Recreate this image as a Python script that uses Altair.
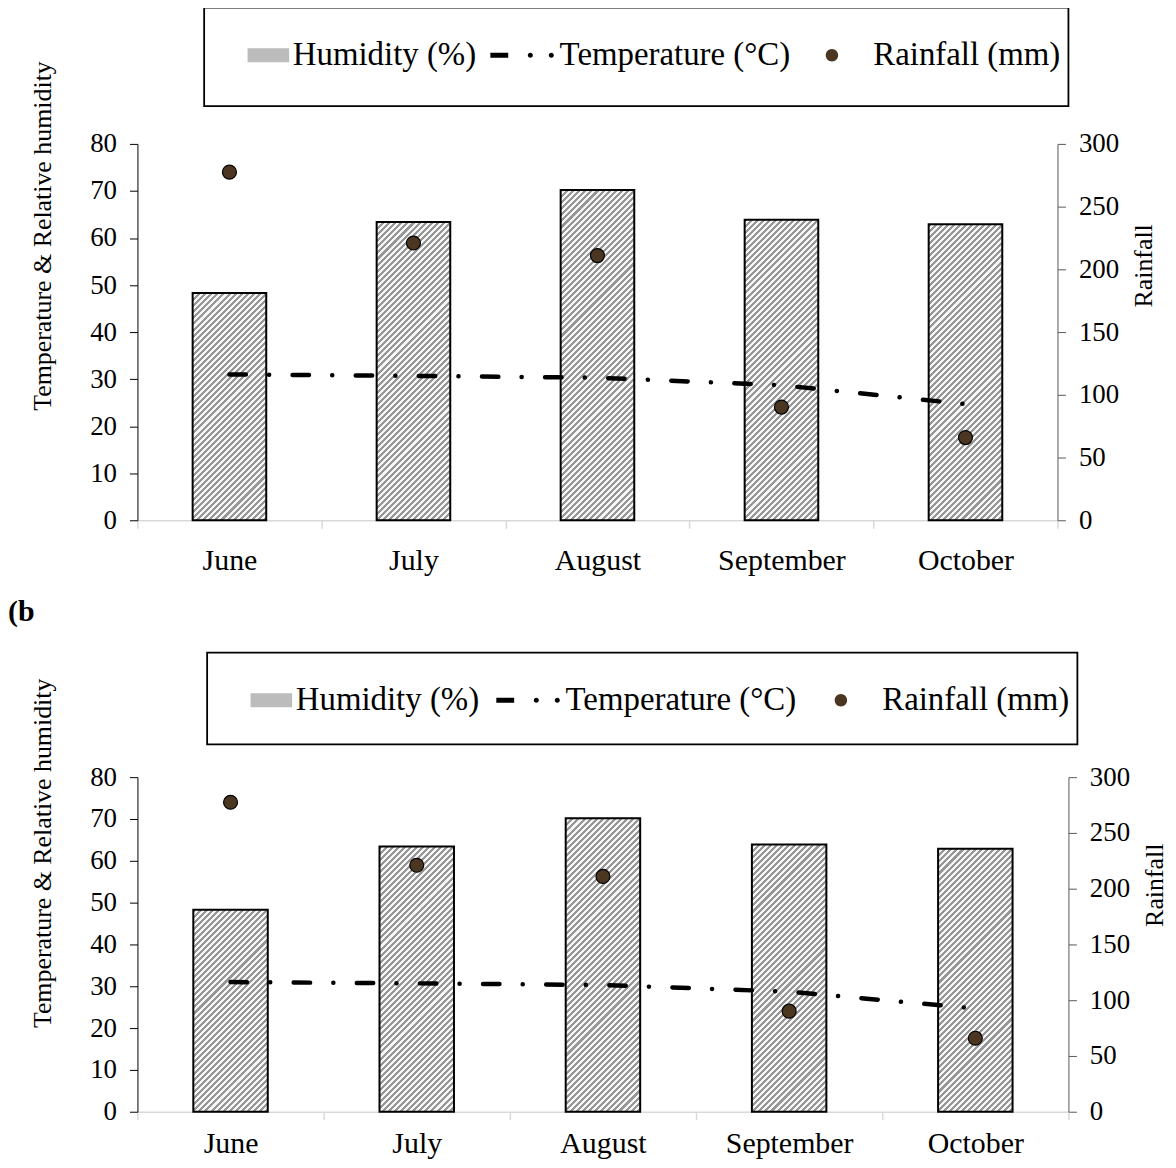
import altair as alt
import pandas as pd

# ---------------- data ----------------
months = ["June", "July", "August", "September", "October"]
humidity = [48.3, 63.4, 70.2, 63.9, 62.9]
temperature = [31.0, 30.7, 30.3, 28.7, 24.7]
rainfall = [277.5, 221.0, 211.0, 90.2, 65.9]
series = ["Humidity (%)", "Temperature (°C)", "Rainfall (mm)"]
left_ticks = [0, 10, 20, 30, 40, 50, 60, 70, 80]
right_ticks = [0, 50, 100, 150, 200, 250, 300]

FONT = "Liberation Serif"
LEFT_MAX = 80
RIGHT_MAX = 300

df = pd.DataFrame({"month": months, "humidity": humidity,
                   "temperature": temperature, "rainfall": rainfall})
df_pts = df.assign(series=series[2])

series_colors = ["#bcbcbc", "#000000", "#4b3622"]
SYM = 6084  # legend symbol column = sqrt(SYM) = 78 px ; path unit = 39 px


def stretch(ext):
    # two empty sub-paths: they draw nothing, only give every legend entry
    # the same height so the entries line up
    return f" M0,-{ext}Z M0,{ext}Z"


def symbols(ext):
    rect = "M-0.10,-0.18H0.97V0.18H-0.10Z" + stretch(ext)
    dashdot = ("M-0.72,-0.065H-0.26V0.065H-0.72Z "
               "M0.375,0A0.065,0.065,0,1,1,0.245,0A0.065,0.065,0,1,1,0.375,0Z "
               "M0.915,0A0.065,0.065,0,1,1,0.785,0A0.065,0.065,0,1,1,0.915,0Z"
               + stretch(ext))
    circle = "M0.16,0A0.16,0.16,0,1,1,-0.16,0A0.16,0.16,0,1,1,0.16,0Z" + stretch(ext)
    return [rect, dashdot, circle]


def hatch(w, h, period=4.3, c1="#979797", c2="#f6f6f6"):
    """Diagonal '/' stripes as a linear gradient in bounding-box units."""
    t = (w + h) * w * h / (w * w + h * h)
    x2, y2 = t / h, t / w
    step = period * (2 ** 0.5) / (w + h)
    stops = []
    pos = 0.0
    while pos < 1.0:
        b = min(pos + step / 2, 1.0)
        c = min(pos + step, 1.0)
        stops += [(pos, c1), (b, c1), (b, c2), (c, c2)]
        pos += step
    return alt.Gradient(
        gradient="linear", x1=0, y1=0, x2=x2, y2=y2,
        stops=[alt.GradientStop(offset=round(o, 5), color=col) for o, col in stops])


def panel(W, H, legend_x, legend_y, legend_colpad, legend_ext,
          left_title_y, right_title_y, x_label_pad, title=None):
    x_axis = alt.Axis(title=None, labelFontSize=30, labelColor="black", labelAngle=0,
                      domainColor="#d9d9d9", domainWidth=1.5, tickColor="#d9d9d9",
                      tickWidth=1.5, tickSize=8, tickBand="extent",
                      labelPadding=x_label_pad, grid=False)
    x_enc = alt.X("month:N", sort=months,
                  scale=alt.Scale(domain=months, paddingInner=0, paddingOuter=0),
                  axis=x_axis)
    left_axis = alt.Axis(values=left_ticks, title="Temperature & Relative humidity",
                         titleFontSize=26, titleFontWeight="normal", titleColor="black",
                         labelFontSize=27, labelColor="black", tickSize=8,
                         tickColor="black", domainColor="black", labelPadding=13,
                         titlePadding=34, titleY=left_title_y, grid=False)
    left_scale = alt.Scale(domain=[0, LEFT_MAX], nice=False)
    bw = W / len(months) * 0.4
    layers = []
    for i, m in enumerate(months):
        bh = humidity[i] / LEFT_MAX * H
        layers.append(
            alt.Chart(df).transform_filter(alt.datum.month == m)
            .mark_bar(fill=hatch(bw, bh), stroke="black", strokeWidth=2,
                      width=alt.RelativeBandSize(0.4))
            .encode(x=x_enc, y=alt.Y("humidity:Q", scale=left_scale, axis=left_axis))
        )
    line = alt.Chart(df).mark_line(
        color="black", strokeWidth=4.5, strokeDash=[16.5, 23.3, 0.1, 23.5],
        strokeCap="round"
    ).encode(x=x_enc, y=alt.Y("temperature:Q", scale=left_scale, axis=left_axis))
    layers.append(line)

    legend = alt.Legend(orient="none", legendX=legend_x, legendY=legend_y,
                        direction="horizontal", title=None, labelFont=FONT,
                        labelFontSize=33, labelColor="black", symbolSize=SYM,
                        symbolStrokeColor="black", symbolStrokeWidth=1,
                        strokeColor="black", fillColor="white",
                        padding=8, columnPadding=legend_colpad,
                        labelOffset=2, labelLimit=0)
    right_axis = alt.Axis(orient="right", values=right_ticks, title="Rainfall",
                          titleFontSize=26, titleFontWeight="normal", titleColor="black",
                          titleAngle=270, titleBaseline="top", titlePadding=12,
                          titleY=right_title_y,
                          labelFontSize=27, labelColor="black", tickSize=8,
                          tickColor="#595959", domainColor="#595959", labelPadding=13,
                          grid=False)
    points = alt.Chart(df_pts).mark_point(
        filled=True, size=7656, stroke="black", strokeWidth=1.2, opacity=1
    ).encode(
        x=x_enc,
        y=alt.Y("rainfall:Q", scale=alt.Scale(domain=[0, RIGHT_MAX], nice=False),
                axis=right_axis),
        fill=alt.Fill("series:N", scale=alt.Scale(domain=series, range=series_colors),
                      legend=legend),
        shape=alt.Shape("series:N",
                        scale=alt.Scale(domain=series, range=symbols(legend_ext)),
                        legend=legend),
    )
    ch = alt.layer(alt.layer(*layers), points).resolve_scale(y="independent")
    props = dict(width=W, height=H)
    if title is not None:
        props["title"] = title
    return ch.properties(**props)


top = panel(924, 378, 67, -137, 2, 1.04, 92, 122, 17)
bottom_title = alt.TitleParams(text="(b", anchor="start", frame="group", dx=-130,
                               fontSize=30, font=FONT, fontWeight="bold",
                               color="black", offset=25)
bottom = panel(935, 336, 70, -125, 5, 0.87, 76, 108, 9, title=bottom_title)

chart = alt.vconcat(top, bottom, spacing=22).resolve_scale(
    x="independent", y="independent", fill="independent", shape="independent"
).properties(
    padding={"left": 0, "top": -4, "right": 0, "bottom": 0}
).configure(font=FONT).configure_view(stroke=None).configure_axis(
    labelFont=FONT, titleFont=FONT
).configure_legend(strokeWidth=1.8)

chart.save("out.html", embed_options={"renderer": "svg", "actions": False})
